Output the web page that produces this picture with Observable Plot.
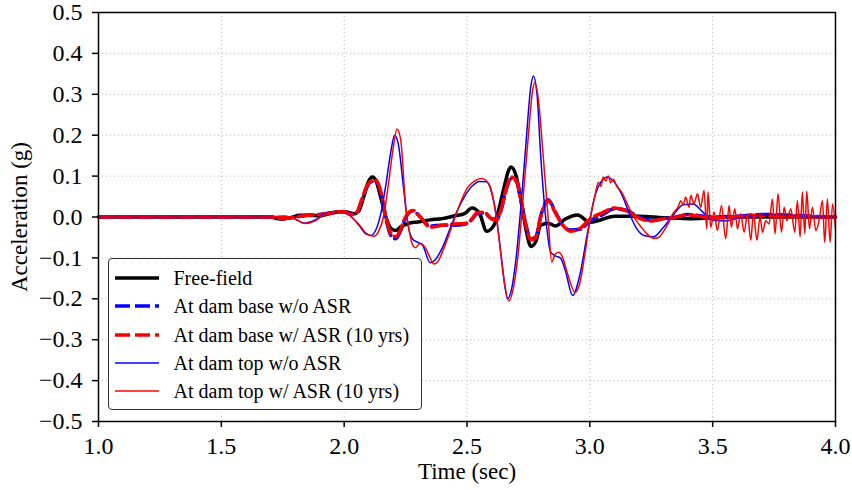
<!DOCTYPE html>
<html><head><meta charset="utf-8">
<script src="https://cdn.jsdelivr.net/npm/d3@7"></script>
<script src="https://cdn.jsdelivr.net/npm/@observablehq/plot@0.6"></script>
<style>
body{margin:0;background:#fff;}
#wrap{position:relative;width:852px;height:490px;font-family:"Liberation Serif","Times New Roman",serif;}
#wrap svg text{font-family:"Liberation Serif","Times New Roman",serif !important;}
#legend{position:absolute;left:108px;top:258px;width:314px;height:152px;box-sizing:border-box;border:1.5px solid #333;border-radius:4px;background:#fff;}
.row{position:absolute;left:0;height:28px;width:100%;}
.row svg{position:absolute;left:5.5px;top:0;}
.row span{position:absolute;left:64.5px;top:0;line-height:28px;font-size:20px;color:#000;white-space:nowrap;}
</style></head>
<body><div id="wrap"></div>
<script>
const xTicks = [1.0, 1.5, 2.0, 2.5, 3.0, 3.5, 4.0];
const yTicks = [-0.5, -0.4, -0.3, -0.2, -0.1, 0, 0.1, 0.2, 0.3, 0.4, 0.5];
const xLabel = "Time (sec)";
const yLabel = "Acceleration (g)";
const seriesNames = ["Free-field", "At dam base w/o ASR", "At dam base w/ ASR (10 yrs)", "At dam top w/o ASR", "At dam top w/ ASR (10 yrs)"];

const freeField = [[1.0,0],[1.7,0],[1.74,-0.005],[1.78,-0.002],[1.82,0.004],[1.86,0.004],[1.9,0.003],[1.94,0.008],[1.98,0.012],[2.01,0.012],[2.04,0.008],[2.06,0.015],[2.08,0.05],[2.1,0.088],[2.115,0.098],[2.13,0.088],[2.15,0.045],[2.17,0.0],[2.19,-0.028],[2.21,-0.033],[2.23,-0.024],[2.26,-0.016],[2.3,-0.012],[2.35,-0.007],[2.4,-0.004],[2.45,0.003],[2.49,0.008],[2.52,0.022],[2.55,0.01],[2.58,-0.035],[2.61,-0.02],[2.63,0.02],[2.65,0.07],[2.67,0.115],[2.68,0.122],[2.7,0.1],[2.72,0.04],[2.74,-0.03],[2.76,-0.072],[2.78,-0.06],[2.8,-0.02],[2.83,-0.015],[2.86,-0.022],[2.9,-0.005],[2.95,0.005],[3.0,-0.013],[3.04,-0.008],[3.1,0.002],[3.2,0.002],[3.3,-0.002],[3.4,-0.004],[3.5,-0.002],[3.6,0],[4.0,0]];

const baseNoASR = [[1.0,0],[1.7,0],[1.75,-0.004],[1.8,0.0],[1.85,0.004],[1.9,0.006],[1.95,0.01],[2.0,0.012],[2.03,0.006],[2.05,0.01],[2.07,0.038],[2.09,0.07],[2.11,0.086],[2.13,0.086],[2.15,0.058],[2.17,-0.004],[2.19,-0.045],[2.21,-0.053],[2.23,-0.033],[2.25,-0.002],[2.28,0.015],[2.31,0.0],[2.35,-0.022],[2.4,-0.02],[2.45,-0.02],[2.49,-0.018],[2.52,-0.006],[2.54,0.008],[2.57,0.01],[2.6,-0.004],[2.62,-0.006],[2.64,0.02],[2.66,0.068],[2.68,0.094],[2.7,0.088],[2.72,0.04],[2.74,-0.02],[2.76,-0.054],[2.78,-0.048],[2.8,0.002],[2.83,0.042],[2.86,0.012],[2.89,-0.02],[2.92,-0.032],[2.96,-0.03],[3.0,-0.01],[3.05,0.005],[3.1,0.02],[3.15,0.016],[3.2,0.0],[3.25,-0.008],[3.3,-0.004],[3.35,0.0],[3.4,0.006],[3.5,0.0],[3.6,0.002],[3.7,0.006],[3.8,0.005],[3.9,0.002],[4.0,0.0]];

const baseASR = [[1.0,0],[1.7,0],[1.75,-0.004],[1.8,0.0],[1.85,0.004],[1.9,0.006],[1.95,0.01],[2.0,0.012],[2.03,0.006],[2.05,0.01],[2.07,0.04],[2.09,0.072],[2.11,0.088],[2.13,0.09],[2.15,0.06],[2.17,0.0],[2.19,-0.04],[2.21,-0.048],[2.23,-0.03],[2.25,0.0],[2.28,0.016],[2.31,0.0],[2.35,-0.025],[2.4,-0.02],[2.45,-0.017],[2.49,-0.016],[2.52,-0.005],[2.54,0.01],[2.57,0.012],[2.6,-0.005],[2.62,-0.008],[2.64,0.02],[2.66,0.07],[2.68,0.098],[2.7,0.09],[2.72,0.04],[2.74,-0.02],[2.76,-0.056],[2.78,-0.05],[2.8,0.0],[2.83,0.04],[2.86,0.01],[2.89,-0.02],[2.92,-0.035],[2.96,-0.028],[3.0,-0.005],[3.05,0.01],[3.1,0.022],[3.15,0.015],[3.2,-0.003],[3.25,-0.01],[3.3,-0.004],[3.35,0.0],[3.4,0.005],[3.5,-0.002],[3.6,0.0],[3.7,0.004],[3.8,0.003],[3.9,0.0],[4.0,0.0]];

const topNoASR = [[1.0,0],[1.7,0],[1.76,0.002],[1.8,-0.005],[1.84,-0.015],[1.88,-0.008],[1.92,0.008],[1.96,0.014],[2.0,0.014],[2.03,0.0],[2.06,-0.02],[2.09,-0.042],[2.11,-0.045],[2.13,-0.03],[2.15,0.01],[2.17,0.08],[2.19,0.16],[2.205,0.2],[2.22,0.18],[2.24,0.08],[2.26,-0.02],[2.28,-0.055],[2.3,-0.062],[2.32,-0.07],[2.35,-0.112],[2.37,-0.105],[2.4,-0.075],[2.43,-0.03],[2.46,0.015],[2.49,0.05],[2.52,0.075],[2.55,0.087],[2.58,0.086],[2.6,0.06],[2.62,0.0],[2.64,-0.1],[2.665,-0.2],[2.68,-0.18],[2.7,-0.1],[2.72,0.03],[2.74,0.18],[2.76,0.32],[2.77,0.345],[2.785,0.3],[2.8,0.15],[2.82,0.0],[2.84,-0.085],[2.86,-0.095],[2.88,-0.1],[2.9,-0.13],[2.93,-0.192],[2.96,-0.14],[2.99,-0.04],[3.02,0.05],[3.05,0.09],[3.07,0.098],[3.1,0.085],[3.13,0.055],[3.16,0.01],[3.19,-0.028],[3.22,-0.045],[3.26,-0.048],[3.3,-0.025],[3.34,0.005],[3.38,0.03],[3.42,0.032],[3.46,0.012],[3.5,-0.008],[3.55,-0.01],[3.6,-0.003],[3.7,0.004],[3.8,0.005],[3.9,0.0],[4.0,0.0]];

const topASR = [[1.0,0],[1.7,0],[1.76,0.002],[1.8,-0.005],[1.84,-0.016],[1.88,-0.01],[1.92,0.006],[1.96,0.014],[2.0,0.016],[2.03,0.0],[2.06,-0.018],[2.09,-0.04],[2.12,-0.047],[2.14,-0.035],[2.16,0.0],[2.18,0.08],[2.2,0.17],[2.215,0.215],[2.23,0.19],[2.25,0.03],[2.265,-0.035],[2.28,-0.07],[2.29,-0.075],[2.31,-0.064],[2.33,-0.075],[2.35,-0.1],[2.365,-0.115],[2.38,-0.11],[2.41,-0.07],[2.44,-0.02],[2.47,0.03],[2.5,0.07],[2.53,0.088],[2.56,0.094],[2.59,0.08],[2.61,0.035],[2.63,-0.05],[2.65,-0.15],[2.67,-0.205],[2.69,-0.17],[2.71,-0.08],[2.73,0.06],[2.75,0.2],[2.765,0.3],[2.775,0.328],[2.79,0.29],[2.81,0.15],[2.83,0.0],[2.845,-0.11],[2.86,-0.09],[2.875,-0.086],[2.89,-0.1],[2.91,-0.14],[2.94,-0.184],[2.96,-0.16],[2.98,-0.09],[3.0,-0.01],[3.02,0.05],[3.035,0.085],[3.045,0.075],[3.055,0.098],[3.065,0.088],[3.075,0.1],[3.085,0.084],[3.095,0.092],[3.11,0.075],[3.13,0.06],[3.15,0.035],[3.17,0.01],[3.19,-0.01],[3.21,-0.025],[3.23,-0.04],[3.26,-0.052],[3.28,-0.05],[3.3,-0.035],[3.32,-0.015],[3.34,0.01],[3.36,0.025],[3.37,0.04],[3.38,0.03],[3.39,0.048],[3.404,0.024],[3.411,0.053],[3.424,0.032],[3.438,0.057],[3.451,0.024],[3.465,0.065],[3.476,-0.029],[3.481,0.061],[3.492,-0.025],[3.506,0.012],[3.519,-0.033],[3.536,0.028],[3.553,-0.053],[3.567,0.028],[3.576,-0.025],[3.59,0.02],[3.601,-0.029],[3.614,0.008],[3.628,-0.037],[3.642,0.008],[3.655,-0.057],[3.666,0.008],[3.68,-0.057],[3.693,0.0],[3.703,-0.037],[3.716,-0.009],[3.73,-0.017],[3.743,0.044],[3.754,-0.041],[3.766,0.057],[3.78,-0.037],[3.791,0.024],[3.802,-0.009],[3.818,0.02],[3.834,-0.037],[3.845,0.04],[3.856,-0.049],[3.865,0.061],[3.875,-0.041],[3.883,0.063],[3.894,-0.029],[3.906,0.024],[3.92,-0.033],[3.933,-0.009],[3.947,0.04],[3.956,-0.062],[3.967,0.044],[3.978,-0.062],[3.988,0.032],[4.0,-0.03]];

const series = [
  {name: seriesNames[0], data: freeField, stroke: "#000000", width: 3.5, dash: null},
  {name: seriesNames[1], data: baseNoASR, stroke: "#0000ff", width: 3.5, dash: "15,5"},
  {name: seriesNames[2], data: baseASR, stroke: "#ff0000", width: 3.5, dash: "15,5"},
  {name: seriesNames[3], data: topNoASR, stroke: "#0000ff", width: 1.5, dash: null},
  {name: seriesNames[4], data: topASR, stroke: "#ff0000", width: 1.5, dash: null}
];

const toRows = arr => arr.map(([t, v]) => ({t, v}));
const fmtY = d => (d < -1e-9 ? "\u2212" : "") + Math.abs(d).toFixed(1);
const gridStyle = {stroke: "#b4b4b4", strokeOpacity: 1, strokeWidth: 1, strokeDasharray: "1,3"};

const chart = Plot.plot({
  width: 852, height: 490,
  marginLeft: 98, marginRight: 17, marginTop: 12, marginBottom: 69,
  x: {domain: [1, 4], label: null},
  y: {domain: [-0.5, 0.5], label: null},
  style: {fontFamily: "Liberation Serif", fontSize: "23px", color: "#000", background: "#fff", overflow: "visible"},
  marks: [
    Plot.gridX(xTicks, gridStyle),
    Plot.gridY(yTicks, gridStyle),
    ...series.map(s => Plot.line(toRows(s.data), {x: "t", y: "v", stroke: s.stroke, strokeWidth: s.width, strokeDasharray: s.dash, curve: "monotone-x"})),
    Plot.frame({stroke: "#000", strokeWidth: 1.5}),
    Plot.axisX(xTicks, {tickSize: 6, tickPadding: 9, tickFormat: d => d.toFixed(1), strokeWidth: 1.5, label: null, fontSize: 24}),
    Plot.axisY(yTicks, {tickSize: 6, tickPadding: 10, tickFormat: fmtY, strokeWidth: 1.5, label: null, fontSize: 24}),
    Plot.text([xLabel], {text: d => d, frameAnchor: "bottom", lineAnchor: "middle", textAnchor: "middle", dy: 50, fontSize: 23}),
    Plot.text([yLabel], {text: d => d, frameAnchor: "left", textAnchor: "middle", lineAnchor: "middle", dx: -79, rotate: -90, fontSize: 23})
  ]
});

const wrap = document.getElementById("wrap");
wrap.appendChild(chart);

const legend = document.createElement("div");
legend.id = "legend";
series.forEach((s, i) => {
  const row = document.createElement("div");
  row.className = "row";
  row.style.top = (4.8 + i * 28.35) + "px";
  const dash = s.dash ? ` stroke-dasharray="${s.dash}"` : "";
  row.innerHTML = `<svg width="46" height="28"><line x1="0" x2="44" y1="14" y2="14" stroke="${s.stroke}" stroke-width="${s.width}"${dash}/></svg><span>${s.name}</span>`;
  legend.appendChild(row);
});
wrap.appendChild(legend);
</script></body></html>
